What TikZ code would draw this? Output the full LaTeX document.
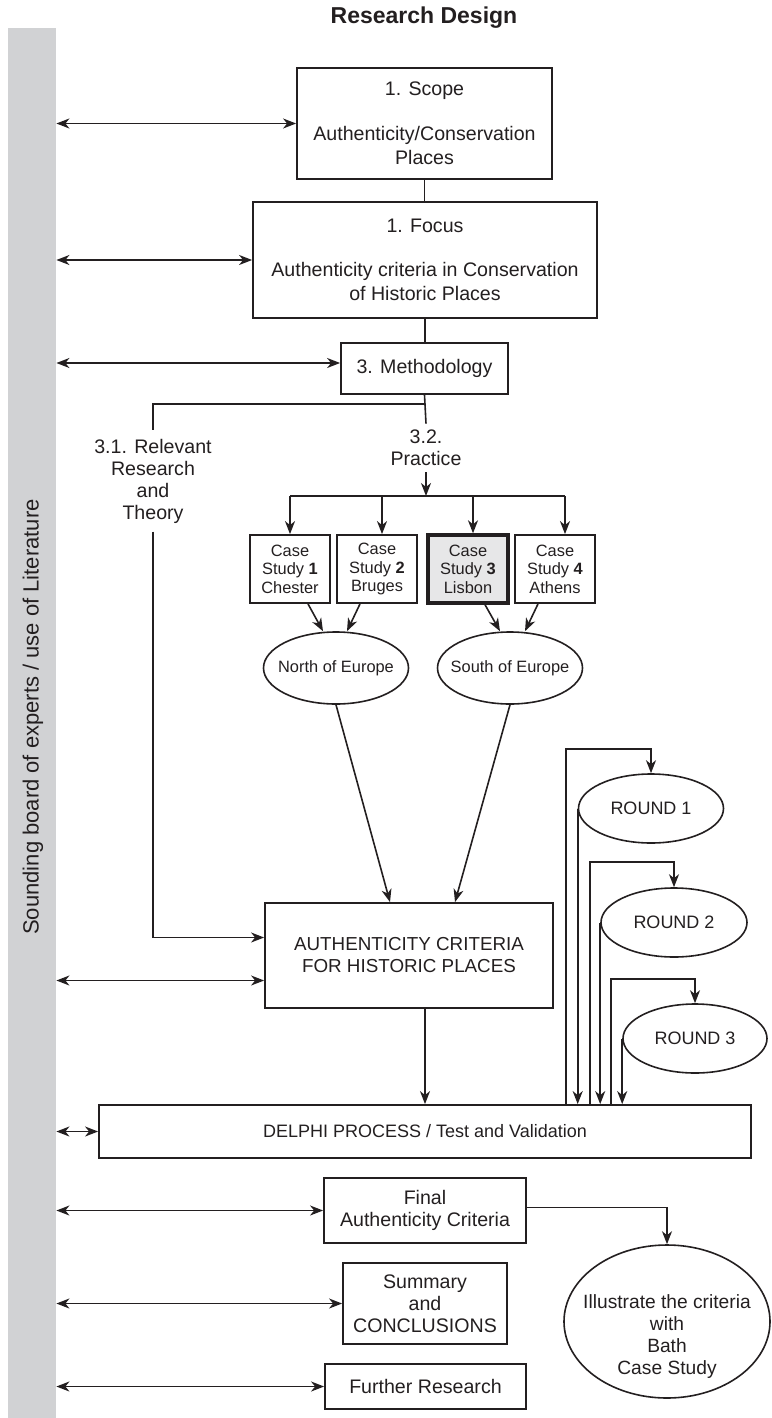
\documentclass[tikz,border=0pt]{standalone}
\usepackage{fontspec}
\setmainfont{Liberation Sans}
\usepackage{tikz}
\usetikzlibrary{arrows.meta,positioning,shapes.geometric}
\definecolor{boardgray}{RGB}{209,210,212}
\definecolor{casegray}{RGB}{231,231,232}
\definecolor{inkgray}{RGB}{35,31,32}

\begin{document}
\begin{tikzpicture}[x=0.5pt, y=-0.5pt,
    box/.style={draw=inkgray, line width=0.9pt, align=center, inner sep=0pt, text=inkgray, font=\fontsize{9.8}{11}\selectfont},
    casebox/.style={box, minimum width=40pt, minimum height=34pt, font=\fontsize{8.2}{9.25}\selectfont},
    oval/.style={draw=inkgray, ellipse, line width=0.8pt, inner xsep=-40pt, inner ysep=-30pt, align=center, text=inkgray, font=\fontsize{8.2}{9.25}\selectfont},
    txt/.style={align=center, inner sep=3pt, text=inkgray, font=\fontsize{9.8}{11}\selectfont},
    arrow/.style={-{Stealth[length=6.5pt,width=5pt,inset=2pt]}, line width=0.8pt, draw=inkgray},
    dblarrow/.style={{Stealth[length=6.5pt,width=5pt,inset=2pt]}-{Stealth[length=6.5pt,width=5pt,inset=2pt]}, line width=0.8pt, draw=inkgray},
    link/.style={line width=0.8pt, draw=inkgray}
]
\useasboundingbox (0,0) rectangle (771,1418);

% Title and sounding board
\node[text=inkgray, font=\bfseries\fontsize{11.5}{13}\selectfont] (title) at (424,18) {Research Design};
\node[fill=boardgray, minimum width=24pt, minimum height=695pt, inner sep=0pt] (board) at (32,723) {};
\node[rotate=90, text=inkgray, font=\fontsize{11}{13}\selectfont] (boardtext) at (33,717) {Sounding board of experts / use of Literature};

% Scope, focus, methodology
\node[box, minimum width=127.5pt, minimum height=55.5pt, font=\fontsize{9.8}{12}\selectfont] (scope) at (424.5,123.5) {1. Scope\\[10.5pt]Authenticity/Conservation\\Places};
\node[box, minimum width=172pt, minimum height=58pt, font=\fontsize{9.8}{12}\selectfont] (focus) at (425,260) {1. Focus\\[10pt]Authenticity criteria in Conservation\\of Historic Places};
\node[box, minimum width=83.5pt, minimum height=25.5pt] (method) at (424.5,368.5) {3. Methodology};

\draw[link] (scope.south) -- (scope.south |- focus.north);
\draw[link] (focus.south) -- (focus.south |- method.north);

% Two branches
\node[txt, inner sep=4pt] (relevant) at (153,481) {3.1. Relevant\\Research\\and\\Theory};
\node[txt] (practice) at (426,448) {3.2.\\Practice};
\coordinate (split) at (425,404);
\draw[link] (method.south) -- (practice.north);
\draw[link] (split) -| (relevant.north);

% Case studies
\node[casebox] (cs1) at (290,569) {Case\\Study \textbf{1}\\Chester};
\node[casebox] (cs2) at (377,569) {Case\\Study \textbf{2}\\Bruges};
\node[casebox, fill=casegray, line width=1.7pt] (cs3) at (468,569) {Case\\Study \textbf{3}\\Lisbon};
\node[casebox] (cs4) at (555,569) {Case\\Study \textbf{4}\\Athens};

\coordinate (bar) at (426,496);
\draw[arrow] (practice.south) -- (bar);
\foreach \n/\dx in {cs1/0,cs2/2.5,cs3/2.5,cs4/5}
  \coordinate (\n-top) at ([xshift=\dx pt]\n.north);
\draw[link] (cs1-top |- bar) -- (cs4-top |- bar);
\foreach \n in {cs1,cs2,cs3,cs4}
  \draw[arrow] (\n-top |- bar) -- (\n-top);

% Regions
\node[oval, minimum width=72.5pt, minimum height=36pt] (northeu) at (336,668) {North of Europe};
\node[oval, minimum width=72.5pt, minimum height=36pt] (southeu) at (510,668) {South of Europe};
\draw[arrow] ([xshift=9pt]cs1.south) -- ([xshift=-6.5pt]northeu.north);
\draw[arrow] ([xshift=-8.5pt]cs2.south) -- ([xshift=5.5pt]northeu.north);
\draw[arrow] ([xshift=8.5pt]cs3.south) -- ([xshift=-5pt]southeu.north);
\draw[arrow] ([xshift=-8.5pt]cs4.south) -- ([xshift=7.5pt]southeu.north);

% Criteria
\node[box, minimum width=144pt, minimum height=52.5pt, font=\fontsize{9.4}{11}\selectfont] (auth) at (409,955.5) {AUTHENTICITY CRITERIA\\FOR HISTORIC PLACES};
\draw[arrow] (northeu.south) -- ([xshift=-9.5pt]auth.north);
\draw[arrow] (southeu.south) -- ([xshift=23pt]auth.north);
\coordinate (relin) at ([yshift=9pt]auth.west);
\coordinate (authin) at ([yshift=-12.5pt]auth.west);
\draw[arrow] (relevant.south) |- (relin);

% Delphi process and rounds
\node[box, minimum width=326pt, minimum height=26.5pt, font=\fontsize{9}{11}\selectfont] (delphi) at (425,1131.5) {DELPHI PROCESS / Test and Validation};
\draw[arrow] (auth.south -| delphi.north) -- (delphi.north);

\node[oval, minimum width=72.5pt, minimum height=34.5pt, font=\fontsize{9}{11}\selectfont] (round1) at (651,808.5) {ROUND 1};
\node[oval, minimum width=73pt, minimum height=34.5pt, font=\fontsize{9}{11}\selectfont] (round2) at (674,922.5) {ROUND 2};
\node[oval, minimum width=72pt, minimum height=34.5pt, font=\fontsize{9}{11}\selectfont] (round3) at (695,1038.5) {ROUND 3};

\foreach \r/\dx/\up in {round1/-6/12, round2/-5/12.5, round3/-5.5/12} {
  \coordinate (\r-up) at ([xshift=\dx pt]\r.west);
  \draw[arrow] (\r-up |- delphi.north) |- ([yshift=\up pt]\r.north) -- (\r.north);
  \draw[arrow] (\r.west) -- (\r.west |- delphi.north);
}

% Results
\node[box, minimum width=101pt, minimum height=32.5pt] (final) at (425,1210.5) {Final\\Authenticity Criteria};
\node[box, minimum width=82pt, minimum height=40.5pt] (summary) at (425,1303.5) {Summary\\and\\CONCLUSIONS};
\node[box, minimum width=100.5pt, minimum height=22.5pt] (further) at (425.5,1386.5) {Further Research};
\node[oval, minimum width=103pt, minimum height=76.5pt, font=\fontsize{9.6}{11}\selectfont] (illus) at (667,1321.5) {\rule{0pt}{22pt}Illustrate the criteria\\with\\Bath\\Case Study};
\draw[arrow] ([yshift=1.5pt]final.east) -| (illus.north);

% Links to the sounding board
\coordinate (methodin) at ([yshift=2.75pt]method.west);
\foreach \n in {scope.west,focus.west,methodin,authin,delphi.west,final.west,summary.west,further.west}
  \draw[dblarrow] (board.east |- \n) -- (\n);

\end{tikzpicture}
\end{document}
